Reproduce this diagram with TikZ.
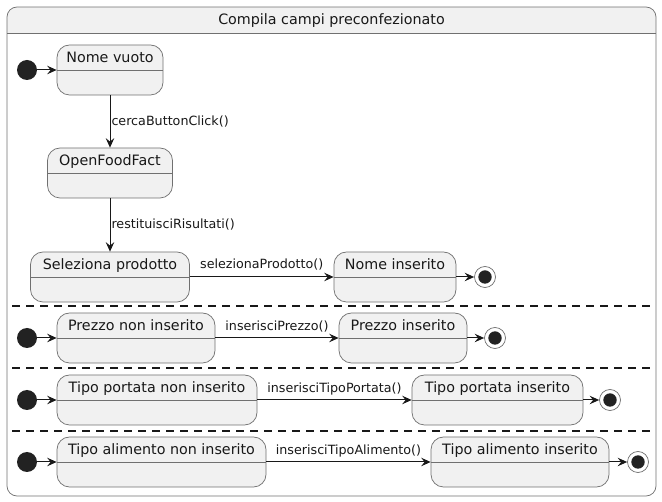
\documentclass[tikz,border=0pt]{standalone}
\usepackage{fontspec}
\setmainfont{DejaVu Sans}
\usetikzlibrary{arrows.meta}
\definecolor{statefill}{HTML}{F1F1F1}
\definecolor{stateline}{HTML}{707070}
\definecolor{ink}{HTML}{181818}
\definecolor{dot}{HTML}{222222}
\tikzset{
  state/.style={draw=stateline, line width=0.7pt, fill=statefill,
    rounded corners=12.5pt, inner ysep=0pt, text height=18pt, text depth=32pt,
    font=\fontsize{14.3}{16}\selectfont, text=ink,
    path picture={\draw[stateline, line width=0.7pt]
      (path picture bounding box.west) -- (path picture bounding box.east);}},
  initial/.style={circle, fill=dot, minimum size=20pt, inner sep=0pt},
  final/.style={circle, draw=stateline, line width=0.7pt, fill=white,
    minimum size=21pt, inner sep=0pt,
    path picture={\fill[dot] (path picture bounding box.center) circle (6.7pt);}},
  trans/.style={draw=ink, line width=1pt, -{Stealth[length=9.5pt,width=8.5pt,inset=3.5pt]}},
  lbl/.style={font=\fontsize{12.7}{15}\selectfont, text=ink, inner sep=1pt},
  regionsep/.style={draw=ink, line width=1.2pt, dash pattern=on 7.5pt off 6.5pt}
}
\begin{document}
\begin{tikzpicture}[x=1pt, y=-1pt]
      \useasboundingbox (0,0) rectangle (662,502);
      \fill[white, rounded corners=10pt] (7,7) rectangle (656,496);
      \begin{scope}
        \clip[rounded corners=10pt] (7,7) rectangle (656,496);
        \fill[statefill] (7,7) rectangle (656,33);
      \end{scope}
      \draw[stateline, line width=0.7pt, rounded corners=10pt] (7,7) rectangle (656,496);
      \draw[stateline, line width=0.7pt] (7,33) -- (656,33);
      \node[font=\fontsize{14.3}{16}\selectfont, text=ink, anchor=base] (title) at (331.5,25) {Compila campi preconfezionato};
      \draw[regionsep] (12,306) -- (656,306);
      \draw[regionsep] (12,368) -- (656,368);
      \draw[regionsep] (12,431) -- (656,431);
      \path
        (27,70) node[initial] (ini1) {}
        (110,70) node[state, minimum width=106pt] (nomevuoto) {Nome vuoto}
        (110,173) node[state, minimum width=125pt] (openfood) {OpenFoodFact}
        (110,277) node[state, minimum width=159pt] (seleziona) {Seleziona prodotto}
        (395,277) node[state, minimum width=122pt] (nomeins) {Nome inserito}
        (485,277) node[final] (fin1) {}
        (27,338) node[initial] (ini2) {}
        (136,338) node[state, minimum width=158pt] (prezzonon) {Prezzo non inserito}
        (403,338) node[state, minimum width=128pt] (prezzoins) {Prezzo inserito}
        (495,338) node[final] (fin2) {}
        (27,400) node[initial] (ini3) {}
        (157,400) node[state, minimum width=200pt] (portatanon) {Tipo portata non inserito}
        (497.5,400) node[state, minimum width=171pt] (portatains) {Tipo portata inserito}
        (610,400) node[final] (fin3) {}
        (27,462) node[initial] (ini4) {}
        (161.5,462) node[state, minimum width=209pt] (alimentonon) {Tipo alimento non inserito}
        (520,462) node[state, minimum width=178pt] (alimentoins) {Tipo alimento inserito}
        (638,462) node[final] (fin4) {};
      \begin{scope}[trans]
        \draw (ini1) -- (nomevuoto);
        \draw (nomevuoto) -- node[lbl, anchor=base west, yshift=-4pt] {cercaButtonClick()} (openfood);
        \draw (openfood) -- node[lbl, anchor=base west, yshift=-4pt] {restituisciRisultati()} (seleziona);
        \draw (seleziona) -- node[lbl, anchor=base, yshift=8.5pt] {selezionaProdotto()} (nomeins);
        \draw (nomeins) -- (fin1);
        \draw (ini2) -- (prezzonon);
        \draw (prezzonon) -- node[lbl, anchor=base, yshift=7.5pt] {inserisciPrezzo()} (prezzoins);
        \draw (prezzoins) -- (fin2);
        \draw (ini3) -- (portatanon);
        \draw (portatanon) -- node[lbl, anchor=base, yshift=7.5pt] {inserisciTipoPortata()} (portatains);
        \draw (portatains) -- (fin3);
        \draw (ini4) -- (alimentonon);
        \draw (alimentonon) -- node[lbl, anchor=base, yshift=7.5pt] {inserisciTipoAlimento()} (alimentoins);
        \draw (alimentoins) -- (fin4);
      \end{scope}
    \end{tikzpicture}
\end{document}
